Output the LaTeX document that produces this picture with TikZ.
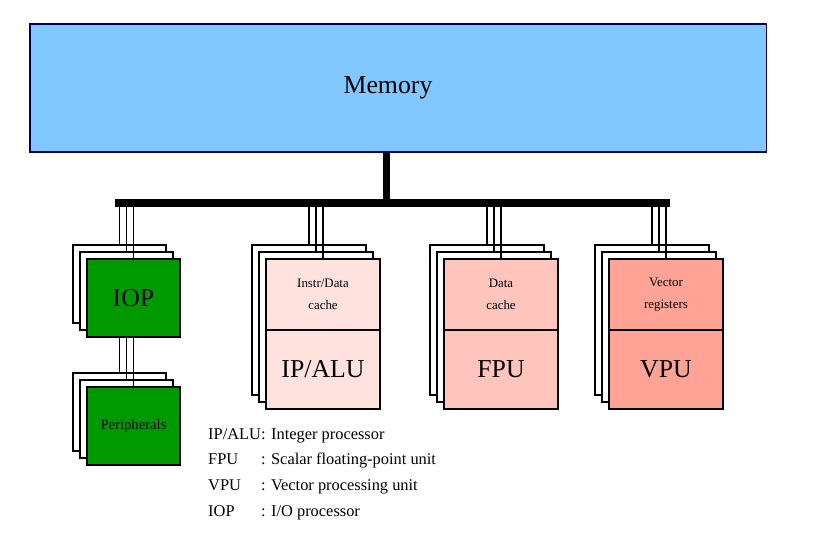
\documentclass[tikz,border=0pt]{standalone}
\usepackage{fontspec}
\setmainfont{Liberation Serif}
\usepackage{tikz}
\usetikzlibrary{positioning,calc}

\definecolor{memblue}{HTML}{80C8FF}
\definecolor{iopgreen}{HTML}{009A00}
\definecolor{ippink}{HTML}{FFE2DE}
\definecolor{fpupink}{HTML}{FFC4BB}
\definecolor{vpupink}{HTML}{FFA396}

\begin{document}
\begin{tikzpicture}[x=0.03cm,y=-0.03cm]

	\tikzset{
	card/.style={draw, fill=white, line width=1.1pt, inner sep=0pt, outer sep=0pt},
	small card/.style={card, minimum width=2.79cm, minimum height=2.34cm},
	big card/.style={card, minimum width=3.42cm, minimum height=4.5cm},
	top half/.style={card, minimum width=3.42cm, minimum height=2.13cm, align=center,
		font=\fontsize{11}{18.7}\selectfont},
	low half/.style={card, minimum width=3.42cm, minimum height=2.37cm,
		font=\fontsize{22}{24}\selectfont},
	wire/.style={line width=1.1pt},
}

\useasboundingbox (0,0) rectangle (822,546);

% memory and bus
\node[draw=black!70!blue, fill=memblue, line width=0.9pt, minimum width=22.08cm, minimum height=3.84cm,
	font=\fontsize{22}{24}\selectfont](mem) at (398,88){\hspace*{-0.6cm}\raisebox{-5pt}[0pt][0pt]{Memory}};
\node[fill=black, inner sep=0pt, outer sep=0pt, minimum width=16.65cm, minimum height=0.24cm](bus) at (392.5,203){};
\coordinate (stem) at ([xshift=-0.345cm]mem.south);
\draw[line width=2.1mm] (stem) -- (stem |- bus.north);

% IOP
\node[small card](iopA) at (119.5,284){};
\node[small card](iopB) at (126.5,291){};
\node[small card, fill=iopgreen, font=\fontsize{22}{24}\selectfont](iopC) at (133.5,298){IOP};
\foreach \n in {iopA,iopB,iopC}
	\draw[wire] (\n.north) -- (\n.north |- bus.south);

% peripherals
\node[small card](perA) at (119.5,412){};
\node[small card](perB) at (126.5,419){};
\node[small card, fill=iopgreen, font=\fontsize{12.5}{14}\selectfont](perC) at (133.5,426){Peripherals};
\foreach \n in {perA,perB,perC}
	\draw[wire] (\n.north) -- (\n.north |- iopC.south);

% IP/ALU
\node[big card](ipA) at (309,320){};
\node[big card](ipB) at (316,327){};
\node[top half, fill=ippink](ipT) at (323,294.5){Instr/Data\\cache};
\node[low half, fill=ippink, below=0pt of ipT](ipL){IP/ALU};
\foreach \n in {ipA,ipB,ipT}
	\draw[wire] (\n.north) -- (\n.north |- bus.south);

% FPU
\node[big card](fpA) at (487,320){};
\node[big card](fpB) at (494,327){};
\node[top half, fill=fpupink](fpT) at (501,294.5){Data\\cache};
\node[low half, fill=fpupink, below=0pt of fpT](fpL){FPU};
\foreach \n in {fpA,fpB,fpT}
	\draw[wire] (\n.north) -- (\n.north |- bus.south);

% VPU
\node[big card](vpA) at (652,320){};
\node[big card](vpB) at (659,327){};
\node[top half, fill=vpupink](vpT) at (666,294.5){Vector\\registers};
\node[low half, fill=vpupink, below=0pt of vpT](vpL){VPU};
\foreach \n in {vpA,vpB,vpT}
	\draw[wire] (\n.north) -- (\n.north |- bus.south);

% legend
\node[anchor=north west, inner sep=0pt, font=\fontsize{14}{21.9}\selectfont](legend) at (208,421){%
	\begin{tabular}{@{}l@{}l@{}}
	IP/ALU&: Integer processor\\
	FPU&: Scalar floating-point unit\\
	VPU&: Vector processing unit\\
	IOP&: I/O processor
	\end{tabular}};

\end{tikzpicture}
\end{document}
